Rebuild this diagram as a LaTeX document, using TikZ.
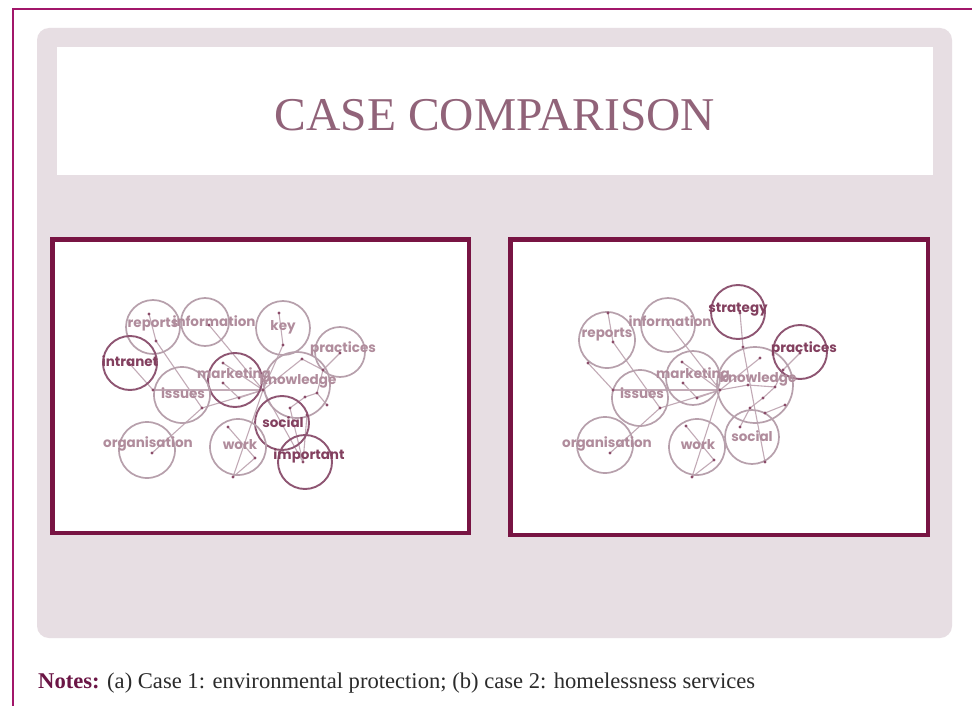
\documentclass[tikz,border=0pt]{standalone}
\usepackage{fontspec}
\usepackage{graphicx}
\newfontfamily\labfont{Poppins}
\newfontfamily\notefont{Liberation Serif}
\definecolor{outermag}{HTML}{A2166A}
\definecolor{pframe}{HTML}{781443}
\definecolor{bggray}{HTML}{E7DEE3}
\definecolor{titlecol}{HTML}{916379}
\definecolor{circlight}{HTML}{B7A0AC}
\definecolor{circdark}{HTML}{8E5572}
\definecolor{lablight}{HTML}{B08C9C}
\definecolor{labdark}{HTML}{83405F}
\definecolor{edgecol}{HTML}{C2AAB6}
\definecolor{dotcol}{HTML}{8B4C69}
\definecolor{notebold}{HTML}{6B1545}
\definecolor{notetext}{HTML}{2B2B2B}
\tikzset{
  cl/.style={circle,draw=circlight,line width=1.7pt,minimum size=#1,inner sep=0pt},
  cd/.style={circle,draw=circdark,line width=1.9pt,minimum size=#1,inner sep=0pt},
  ll/.style={text=lablight,font=\labfont\bfseries\fontsize{13.5}{14}\selectfont,inner sep=0pt},
  ld/.style={text=labdark,font=\labfont\bfseries\fontsize{13.5}{14}\selectfont,inner sep=0pt},
  edge/.style={draw=edgecol,line width=1.1pt},
  dotc/.style={circle,fill=dotcol,inner sep=0pt,minimum size=3.2pt},
  pbox/.style={draw=pframe,line width=4.5pt,fill=white}
}
\begin{document}
\begin{tikzpicture}[x=1pt,y=-1pt]
\useasboundingbox (0,0) rectangle (972,706);
\fill[white] (0,0) rectangle (972,706);
% outer magenta lines
\draw[outermag,line width=2.5pt] (13,706) -- (13,9) -- (972,9);
% gray slide
\fill[bggray,rounded corners=12pt] (37,28) rectangle (952,638);
% title band
\fill[white] (57,47) rectangle (933,175);
\node[text=titlecol,inner sep=0pt] (title) at (495,115) {\resizebox{440pt}{\height}{\notefont\fontsize{47}{47}\selectfont CASE COMPARISON}};
% panels
\draw[pbox] (52.25,239.25) rectangle (468.75,532.75);
\draw[pbox] (510.25,239.25) rectangle (927.75,534.75);

% ---------- left network ----------
\foreach \n/\x/\y in {L1/149/314,L2/156/341,L3/129/363,L4/209/325,L5/279/313,L6/283/345,L7/302/359,L8/340/353,L9/323/370,L10/223/363,L11/223/383,L12/239/398,L13/263/390,L14/153/390,L15/202/408,L16/290/408,L17/305/397,L18/317/393,L19/327/405,L20/307/415,L21/228/427,L22/255/458,L23/233/477,L24/152/453,L25/303/462}
  \coordinate (\n) at (\x,\y);
\foreach \a/\b in {L1/L2,L2/L15,L3/L14,L4/L13,L5/L6,L6/L13,L7/L13,L8/L9,L9/L18,L10/L13,L11/L12,L12/L13,L14/L13,L24/L15,L15/L13,L21/L22,L22/L23,L23/L13,L16/L17,L17/L18,L18/L19,L16/L25,L20/L25,L13/L25,L9/L7}
  \draw[edge] (\a) -- (\b);
\node[cl=54pt] (c-reports) at (153,327) {};
\node[cl=48pt] (c-information) at (205,322) {};
\node[cl=54pt] (c-key) at (283,328) {};
\node[cl=50pt] (c-practices) at (340,352) {};
\node[cd=54pt] (c-intranet) at (130,363) {};
\node[cd=54pt] (c-marketing) at (235,380) {};
\node[cl=66pt] (c-knowledge) at (297,385) {};
\node[cl=56pt] (c-issues) at (182,395) {};
\node[cd=54pt] (c-social) at (282,423) {};
\node[cl=56pt] (c-organisation) at (147,450) {};
\node[cl=56pt] (c-work) at (238,447) {};
\node[cd=54pt] (c-important) at (305,462) {};
\foreach \n in {L1,L2,L3,L4,L5,L6,L7,L8,L9,L10,L11,L12,L13,L14,L15,L16,L17,L18,L19,L20,L21,L22,L23,L24,L25}
  \node[dotc] (d\n) at (\n) {};
\node[ll] (t-reports) at (153,325) {reports};
\node[ll] (t-information) at (214,321) {information};
\node[ll] (t-key) at (283,327) {key};
\node[ll] (t-practices) at (343,349) {practices};
\node[ld] (t-intranet) at (130,361) {intranet};
\node[ll] (t-marketing) at (234,375) {marketing};
\node[ll] (t-knowledge) at (298,381) {knowledge};
\node[ll] (t-issues) at (183,393) {issues};
\node[ld] (t-social) at (283,422) {social};
\node[ll] (t-organisation) at (148,444) {organisation};
\node[ll] (t-work) at (240,445) {work};
\node[ld] (t-important) at (309,456) {important};

% ---------- right network ----------
\foreach \n/\x/\y in {R1/608/313,R2/613/342,R3/588/363,R4/613/390,R5/660/408,R6/668/323,R7/740/313,R8/743/347,R9/800/353,R10/783/370,R11/760/358,R12/682/362,R13/683/383,R14/697/398,R15/720/390,R16/748/385,R17/775/387,R18/763/398,R19/750/408,R20/765/413,R21/785/405,R22/740/427,R23/686/426,R24/714/460,R25/692/477,R26/610/453,R27/765/462}
  \coordinate (\n) at (\x,\y);
\foreach \a/\b in {R1/R2,R2/R5,R3/R4,R6/R15,R7/R8,R8/R27,R9/R10,R10/R17,R11/R15,R12/R15,R13/R14,R14/R15,R4/R15,R26/R5,R5/R15,R23/R24,R24/R25,R25/R15,R16/R17,R17/R18,R18/R19,R19/R22,R20/R21,R16/R15}
  \draw[edge] (\a) -- (\b);
\node[cl=56pt] (c2-reports) at (607,340) {};
\node[cl=54pt] (c2-information) at (668,325) {};
\node[cd=54pt] (c2-strategy) at (738,312) {};
\node[cd=54pt] (c2-practices) at (800,352) {};
\node[cl=54pt] (c2-marketing) at (693,378) {};
\node[cl=76pt] (c2-knowledge) at (755,385) {};
\node[cl=56pt] (c2-issues) at (640,398) {};
\node[cl=56pt] (c2-organisation) at (605,445) {};
\node[cl=56pt] (c2-work) at (697,447) {};
\node[cl=54pt] (c2-social) at (752,437) {};
\foreach \n in {R1,R2,R3,R4,R5,R6,R7,R8,R9,R10,R11,R12,R13,R14,R15,R16,R17,R18,R19,R20,R21,R22,R23,R24,R25,R26,R27}
  \node[dotc] (d\n) at (\n) {};
\node[ll] (t2-reports) at (607,335) {reports};
\node[ll] (t2-information) at (670,321) {information};
\node[ld] (t2-strategy) at (738,310) {strategy};
\node[ld] (t2-practices) at (804,349) {practices};
\node[ll] (t2-marketing) at (693,375) {marketing};
\node[ll] (t2-knowledge) at (758,379) {knowledge};
\node[ll] (t2-issues) at (642,393) {issues};
\node[ll] (t2-organisation) at (607,444) {organisation};
\node[ll] (t2-work) at (698,445) {work};
\node[ll] (t2-social) at (752,436) {social};

% notes
\node[anchor=base west,inner sep=0pt] (notes) at (38,688) {\resizebox{717pt}{\height}{\notefont\fontsize{22.5}{24}\selectfont\textcolor{notebold}{\bfseries Notes:} \textcolor{notetext}{(a) Case 1: environmental protection; (b) case 2: homelessness services}}};
\end{tikzpicture}
\end{document}
